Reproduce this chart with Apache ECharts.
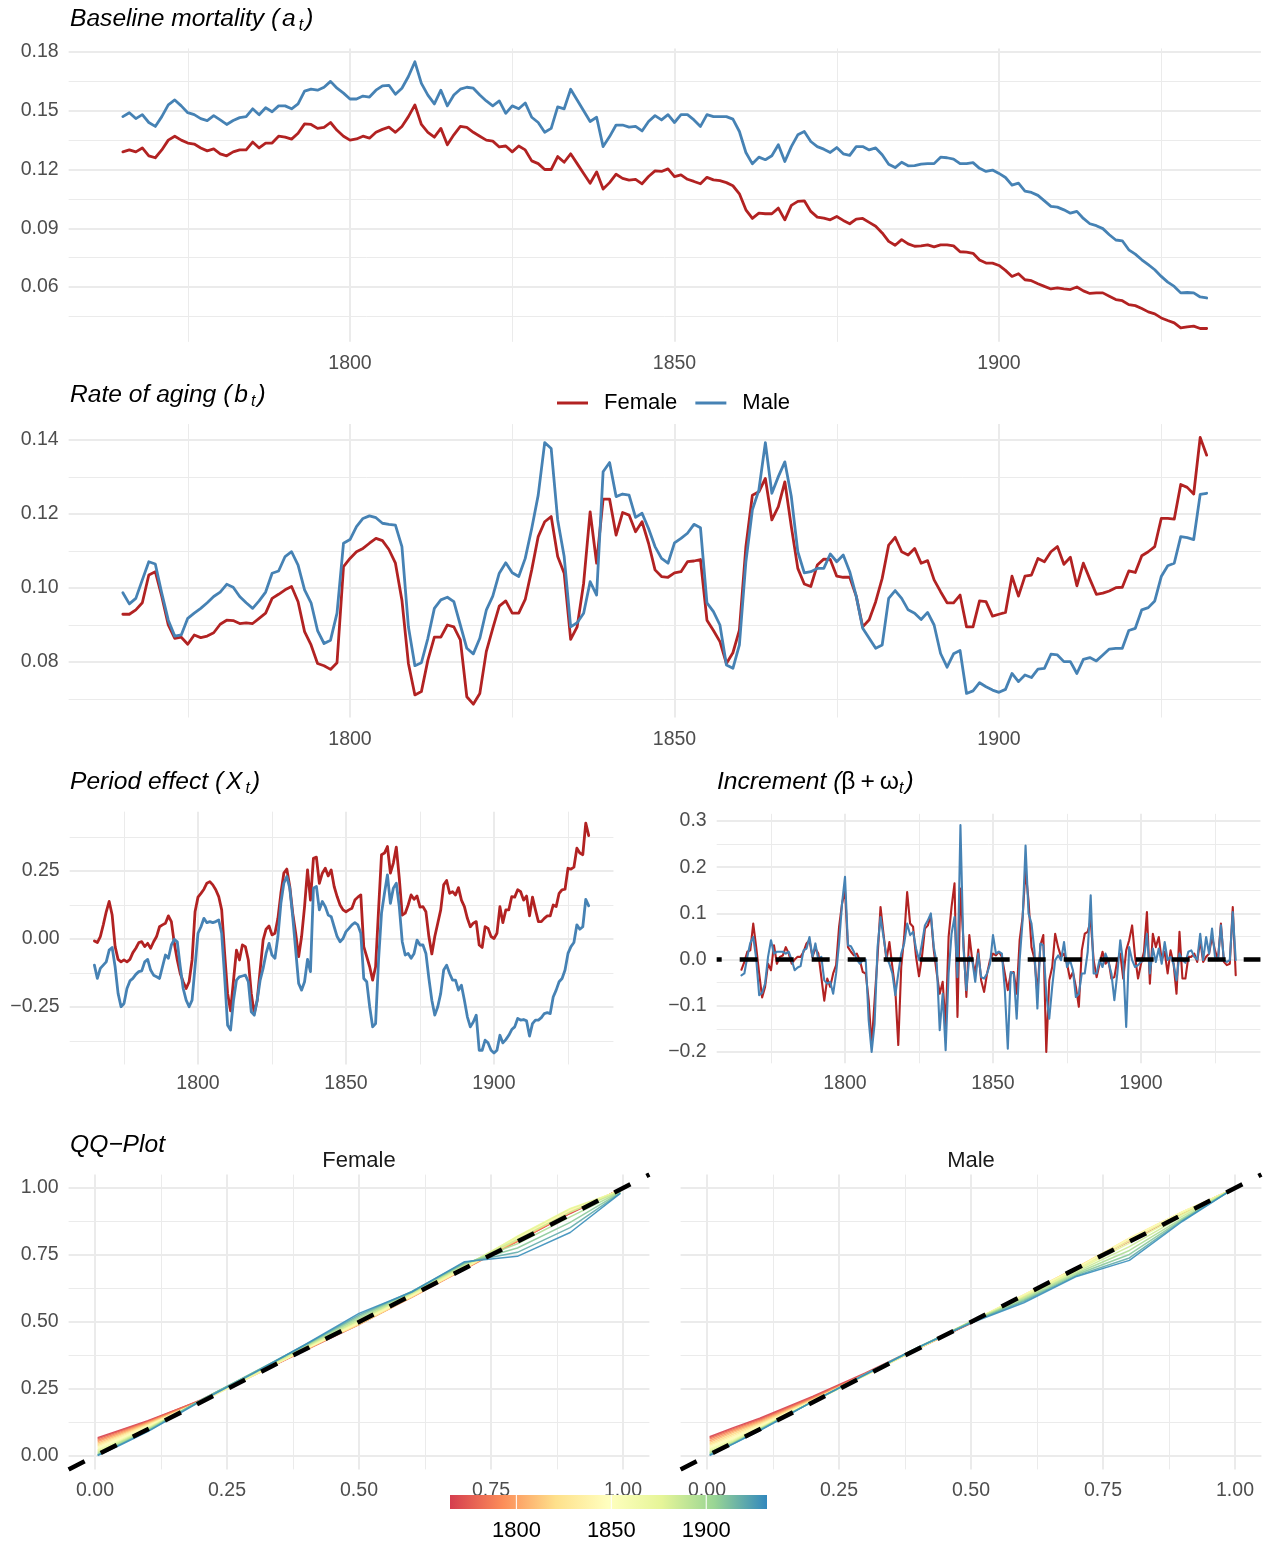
<!DOCTYPE html>
<html lang="en">
<head>
<meta charset="utf-8">
<title>Mortality model components</title>
<script src="https://cdn.jsdelivr.net/npm/echarts/dist/echarts.min.js"></script>
<style>
  html, body { margin: 0; padding: 0; background: #ffffff; }
  #chart { width: 1268px; height: 1545px; }
</style>
</head>
<body>
<div id="chart"></div>
<script>
// ---------- data ----------
const firstYear = 1765;
const lastYear = 1932;
const years = [];
for (let y = firstYear; y <= lastYear; y++) years.push(y);

// baseline mortality a_t
const aFemale = [
  0.129,0.130,0.129,0.131,0.127,0.126,0.130,0.135,0.137,0.135,
  0.1335,0.133,0.131,0.1295,0.1305,0.128,0.127,0.129,0.130,0.130,
  0.134,0.131,0.1335,0.1335,0.137,0.1365,0.1355,0.1385,0.1433,0.143,
  0.141,0.1415,0.144,0.140,0.137,0.135,0.1356,0.137,0.136,0.139,
  0.1405,0.1416,0.139,0.142,0.147,0.153,0.143,0.139,0.1365,0.141,
  0.1326,0.1377,0.142,0.1415,0.139,0.137,0.135,0.1345,0.1315,0.132,
  0.129,0.132,0.130,0.1244,0.123,0.120,0.120,0.1266,0.1237,0.128,
  0.123,0.118,0.113,0.1188,0.110,0.1133,0.1176,0.1155,0.1146,0.115,
  0.1127,0.1164,0.1193,0.119,0.1203,0.1164,0.1173,0.115,0.1139,0.1127,
  0.116,0.1147,0.1143,0.1133,0.1117,0.1076,0.0994,0.095,0.0977,0.0974,
  0.0974,0.1003,0.0943,0.1017,0.1037,0.104,0.0986,0.0957,0.0952,0.0943,
  0.096,0.094,0.0923,0.0947,0.095,0.093,0.091,0.0876,0.0833,0.0813,
  0.0842,0.082,0.0808,0.081,0.0815,0.0805,0.0815,0.0815,0.081,0.078,
  0.0778,0.0772,0.0738,0.0722,0.0722,0.071,0.0685,0.0654,0.0668,0.0637,
  0.0632,0.0617,0.0603,0.059,0.0595,0.059,0.0587,0.060,0.058,0.0567,
  0.057,0.057,0.0553,0.0536,0.053,0.051,0.0505,0.049,0.0473,0.0463,
  0.0442,0.0429,0.0417,0.0391,0.0396,0.040,0.0388,0.0388
];
const aMale = [
  0.147,0.149,0.146,0.148,0.144,0.142,0.147,0.153,0.1555,0.1525,
  0.149,0.148,0.146,0.145,0.1475,0.1453,0.143,0.145,0.1465,0.147,
  0.151,0.148,0.1515,0.1495,0.1525,0.1525,0.151,0.1535,0.160,0.161,
  0.1605,0.162,0.165,0.1615,0.159,0.156,0.156,0.1575,0.157,0.1605,
  0.1627,0.163,0.1584,0.1615,0.1675,0.175,0.164,0.158,0.1535,0.1605,
  0.1525,0.158,0.161,0.162,0.1615,0.158,0.155,0.1525,0.155,0.1487,
  0.1525,0.151,0.154,0.1467,0.144,0.139,0.141,0.152,0.151,0.161,
  0.1555,0.150,0.1445,0.1467,0.1317,0.1368,0.1427,0.1427,0.1416,0.142,
  0.1397,0.1445,0.1475,0.1453,0.148,0.144,0.148,0.148,0.1453,0.142,
  0.148,0.147,0.147,0.147,0.1457,0.1394,0.1287,0.1229,0.1263,0.125,
  0.127,0.1326,0.1241,0.1317,0.1377,0.1394,0.1343,0.1317,0.1304,0.1287,
  0.1312,0.128,0.1272,0.1317,0.1317,0.130,0.131,0.1275,0.1227,0.121,
  0.1237,0.1219,0.122,0.1227,0.123,0.123,0.1263,0.126,0.1253,0.123,
  0.123,0.1235,0.1206,0.119,0.1197,0.118,0.1159,0.112,0.113,0.109,
  0.1083,0.1068,0.104,0.1012,0.1008,0.0994,0.0977,0.0986,0.095,0.0923,
  0.0913,0.0898,0.0867,0.084,0.0836,0.079,0.0768,0.0739,0.0714,0.0688,
  0.0654,0.0625,0.0603,0.057,0.0572,0.057,0.0549,0.0544
];

// rate of aging b_t
const bFemale = [
  0.0929,0.0929,0.0941,0.0960,0.1035,0.1044,0.0977,0.0900,0.0864,0.0867,
  0.0848,0.0873,0.0866,0.0870,0.0879,0.0902,0.0913,0.0912,0.0904,0.0906,
  0.0904,0.0918,0.0932,0.0972,0.0983,0.0995,0.1004,0.0963,0.0882,0.0846,
  0.0796,0.0790,0.0780,0.0798,0.1058,0.1080,0.1098,0.1107,0.1121,0.1134,
  0.1128,0.1104,0.1067,0.0967,0.0796,0.0711,0.0720,0.0805,0.0867,0.0867,
  0.0900,0.0895,0.0860,0.0706,0.0686,0.0715,0.0828,0.0891,0.0951,0.0965,
  0.0932,0.0932,0.0969,0.1049,0.1139,0.1179,0.1193,0.1085,0.1040,0.0861,
  0.0895,0.1013,0.1206,0.1067,0.1240,0.1240,0.1143,0.1204,0.1197,0.1152,
  0.1179,0.1121,0.1049,0.1031,0.1029,0.1041,0.1044,0.1071,0.1073,0.1077,
  0.0913,0.0885,0.0855,0.0796,0.0825,0.0886,0.1112,0.1251,0.1260,0.1296,
  0.1184,0.1220,0.1287,0.1166,0.1053,0.1011,0.1004,0.1062,0.1078,0.1077,
  0.1032,0.1029,0.1029,0.0978,0.0895,0.0914,0.0963,0.1026,0.1116,0.1137,
  0.1098,0.1089,0.1107,0.1067,0.1074,0.1022,0.0990,0.0960,0.0960,0.0981,
  0.0895,0.0895,0.0965,0.0963,0.0924,0.0929,0.0934,0.1032,0.0978,0.1032,
  0.1035,0.1080,0.1071,0.1098,0.1112,0.1064,0.1083,0.1006,0.1067,0.1024,
  0.0983,0.0986,0.0992,0.1001,0.1002,0.1046,0.1042,0.1087,0.1098,0.1112,
  0.1188,0.1188,0.1186,0.1280,0.1272,0.1254,0.1407,0.1359
];
const bMale = [
  0.0987,0.0957,0.0972,0.1022,0.1071,0.1065,0.0986,0.0913,0.0870,0.0873,
  0.0918,0.0932,0.0945,0.0960,0.0977,0.0989,0.1010,0.1002,0.0977,0.0960,
  0.0945,0.0965,0.0989,0.1040,0.1046,0.1085,0.1098,0.1062,0.0995,0.0960,
  0.0885,0.0850,0.0859,0.0932,0.1121,0.1131,0.1166,0.1188,0.1195,0.1190,
  0.1175,0.1172,0.1170,0.1112,0.0895,0.0790,0.0798,0.0864,0.0945,0.0968,
  0.0975,0.0963,0.0900,0.0837,0.0822,0.0864,0.0940,0.0978,0.1040,0.1068,
  0.1041,0.1031,0.1080,0.1161,0.1251,0.1393,0.1377,0.1184,0.1085,0.0895,
  0.0906,0.0932,0.1017,0.0981,0.1314,0.1339,0.1247,0.1254,0.1251,0.1191,
  0.1202,0.1161,0.1112,0.1080,0.1067,0.1122,0.1134,0.1148,0.1172,0.1163,
  0.0960,0.0936,0.0900,0.0792,0.0783,0.0846,0.1071,0.1211,0.1265,0.1393,
  0.1256,0.1301,0.1341,0.1247,0.1098,0.1041,0.1044,0.1053,0.1053,0.1092,
  0.1071,0.1089,0.1044,0.0978,0.0891,0.0864,0.0837,0.0846,0.0972,0.0993,
  0.0972,0.0941,0.0932,0.0915,0.0934,0.0900,0.0823,0.0786,0.0822,0.0831,
  0.0715,0.0722,0.0744,0.0733,0.0724,0.0718,0.0726,0.0769,0.0747,0.0765,
  0.0758,0.0781,0.0783,0.0821,0.0819,0.0801,0.0801,0.0769,0.0807,0.0812,
  0.0803,0.0819,0.0835,0.0837,0.0837,0.0885,0.0891,0.0941,0.0947,0.0965,
  0.1031,0.1060,0.1067,0.1139,0.1136,0.1131,0.1253,0.1256
];

// period effect X_t
const kFemale = [
  -0.007,-0.013,0.009,0.052,0.10,0.138,0.088,-0.028,-0.075,-0.084,
  -0.077,-0.084,-0.075,-0.050,-0.034,-0.013,-0.010,-0.028,-0.016,-0.034,
  -0.010,0.009,0.045,0.052,0.058,0.085,0.064,-0.016,-0.077,-0.127,
  -0.157,-0.182,-0.157,-0.077,0.10,0.154,0.168,0.183,0.205,0.211,
  0.199,0.181,0.156,0.107,-0.053,-0.20,-0.264,-0.151,-0.041,-0.077,
  -0.022,-0.028,-0.077,-0.20,-0.274,-0.225,-0.114,-0.004,0.036,0.048,
  0.015,0.021,0.076,0.168,0.242,0.257,0.193,0.095,0.021,-0.065,
  0.009,0.119,0.254,0.143,0.297,0.301,0.205,0.242,0.26,0.232,
  0.254,0.193,0.156,0.125,0.107,0.10,0.107,0.113,0.143,0.154,
  0.162,-0.028,-0.065,-0.102,-0.151,-0.102,0.107,0.31,0.316,0.34,
  0.242,0.279,0.338,0.224,0.088,0.095,0.125,0.162,0.146,0.158,
  0.117,0.119,0.10,0.009,-0.055,0.009,0.058,0.107,0.199,0.215,
  0.168,0.174,0.162,0.189,0.143,0.119,0.076,0.045,0.058,0.064,
  -0.022,-0.031,0.045,0.039,0.009,0.002,0.021,0.119,0.06,0.107,
  0.107,0.156,0.154,0.181,0.174,0.143,0.158,0.085,0.154,0.107,
  0.064,0.064,0.076,0.085,0.085,0.125,0.119,0.168,0.181,0.183,
  0.26,0.257,0.264,0.334,0.316,0.31,0.426,0.38
];
const kMale = [
  -0.096,-0.145,-0.108,-0.096,-0.084,-0.041,-0.031,-0.102,-0.20,-0.249,
  -0.237,-0.182,-0.154,-0.145,-0.130,-0.120,-0.117,-0.084,-0.075,-0.114,
  -0.133,-0.139,-0.145,-0.102,-0.059,-0.071,-0.022,-0.001,-0.010,-0.102,
  -0.182,-0.225,-0.249,-0.225,-0.102,0.021,0.045,0.076,0.06,0.064,
  0.06,0.064,0.07,0.021,-0.139,-0.317,-0.335,-0.225,-0.151,-0.139,
  -0.136,-0.133,-0.157,-0.268,-0.28,-0.225,-0.151,-0.108,-0.053,-0.016,
  -0.059,-0.071,0.009,0.131,0.205,0.23,0.187,0.082,-0.041,-0.163,
  -0.188,-0.157,-0.075,-0.12,0.187,0.193,0.107,0.138,0.119,0.088,
  0.082,0.045,0.009,-0.010,0.002,0.027,0.039,0.052,0.06,0.052,
  0.021,-0.145,-0.157,-0.249,-0.323,-0.311,-0.077,0.095,0.168,0.236,
  0.131,0.187,0.205,0.119,-0.010,-0.059,-0.053,-0.071,-0.053,-0.004,
  -0.022,-0.022,-0.053,-0.145,-0.225,-0.28,-0.249,-0.20,-0.114,-0.096,
  -0.127,-0.151,-0.151,-0.188,-0.17,-0.225,-0.286,-0.323,-0.305,-0.28,
  -0.409,-0.409,-0.372,-0.382,-0.409,-0.419,-0.409,-0.354,-0.382,-0.37,
  -0.354,-0.333,-0.323,-0.292,-0.298,-0.296,-0.301,-0.357,-0.311,-0.298,
  -0.298,-0.289,-0.274,-0.271,-0.274,-0.213,-0.188,-0.157,-0.145,-0.114,
  -0.053,-0.028,-0.013,0.052,0.036,0.045,0.146,0.122
];

// increment beta + omega_t
const incFemale = [
  -0.022,-0.005,0.017,0.02,0.078,0.027,-0.03,-0.082,-0.059,-0.009,
  -0.023,0.031,-0.009,0.006,0.009,0.027,0.013,-0.009,0,0.006,
  0.006,0.017,0.035,0.042,0.006,0.024,0.013,-0.038,-0.089,-0.041,
  -0.059,-0.03,-0.012,0.071,0.121,0.15,0.027,0.017,0.009,0.013,
  -0.001,-0.027,-0.03,-0.088,-0.185,-0.088,0.006,0.114,0.056,-0.001,
  0.038,-0.016,-0.066,-0.185,-0.016,0.049,0.146,0.078,0.071,0.006,
  -0.036,0.006,0.067,0.074,0.096,0.02,-0.03,-0.074,-0.048,-0.146,
  0.049,0.114,0.165,-0.124,0.154,0.042,-0.081,0.053,-0.001,-0.03,
  0.022,-0.045,-0.07,-0.03,-0.001,0.013,0.009,0.017,0.006,-0.03,
  -0.066,-0.03,-0.027,-0.074,0.042,0.092,0.193,0.128,0.027,0.002,
  -0.074,0.031,0.053,-0.20,-0.045,-0.016,0.056,0.027,0.006,0.013,
  -0.009,-0.041,-0.027,-0.059,-0.102,0.02,0.056,0.06,0.085,-0.001,
  -0.038,-0.009,0.017,-0.009,-0.001,-0.041,-0.038,-0.001,0.013,-0.041,
  0.02,0.042,0.074,0.006,-0.041,-0.009,0.017,0.103,-0.052,0.056,
  0.027,0.049,-0.001,0.017,-0.03,0.02,-0.009,-0.074,0.06,-0.041,
  -0.041,0.006,0.006,0.013,-0.005,0.042,-0.005,0.006,0.013,0.049,
  0.02,-0.001,0.078,-0.005,-0.012,-0.009,0.114,-0.034
];
const incMale = [
  -0.034,-0.03,0.006,0.036,0.049,0.002,-0.077,-0.072,-0.052,0.006,
  0.042,0.013,0.017,0.017,0.017,0.013,0.017,-0.001,-0.023,-0.017,
  -0.014,0.02,0.024,0.049,0.006,0.035,-0.001,0.006,-0.045,-0.052,
  -0.048,-0.074,-0.03,0.035,0.121,0.179,0.031,0.029,0.017,0,
  -0.009,-0.001,0,-0.131,-0.20,-0.139,0.027,0.092,0.049,0.006,
  -0.009,-0.03,-0.077,-0.03,0.013,0.035,0.078,0.053,0.06,0.024,
  -0.001,0.035,0.074,0.085,0.10,0.027,-0.009,-0.153,-0.074,-0.196,
  -0.03,0.056,0.092,-0.038,0.291,0.027,-0.066,0.006,-0.001,-0.048,
  0.013,-0.038,-0.041,-0.03,-0.009,0.053,0.013,0.017,0.013,-0.066,
  -0.193,-0.027,-0.03,-0.128,-0.001,0.085,0.247,0.10,0.078,0.02,
  -0.106,0.035,0.031,-0.074,-0.128,-0.059,-0.001,0.009,-0.001,0.038,
  -0.016,-0.001,-0.023,-0.081,-0.074,-0.03,-0.03,0.017,0.139,-0.03,
  -0.03,-0.001,-0.016,0.013,-0.005,-0.03,-0.088,-0.03,0.042,-0.009,
  -0.146,0.027,-0.001,-0.016,-0.012,-0.005,-0.001,0.056,-0.03,0.024,
  -0.005,0.024,-0.009,0.038,-0.001,0.006,-0.009,-0.045,0.013,-0.001,
  -0.007,0.017,0.02,0.006,0,0.056,-0.001,0.049,0.013,0.067,
  0.006,-0.001,0.074,-0.001,-0.005,-0.001,0.103,-0.001
];

// QQ curves: theoretical probability vs empirical, one curve per year
const qqProbs = [0.005, 0.05, 0.1, 0.2, 0.3, 0.4, 0.5, 0.6, 0.7, 0.8, 0.9, 0.995];
const qqYears = [1765, 1776, 1787, 1798, 1809, 1820, 1831, 1842, 1853, 1864, 1875, 1886, 1897, 1908, 1919, 1930];
const qqFemale = [
  [0.068, 0.098, 0.132, 0.207, 0.301, 0.396, 0.490, 0.596, 0.700, 0.801, 0.905, 0.995],
  [0.064, 0.095, 0.129, 0.209, 0.304, 0.399, 0.493, 0.599, 0.701, 0.803, 0.906, 0.995],
  [0.059, 0.091, 0.126, 0.206, 0.301, 0.401, 0.491, 0.592, 0.697, 0.801, 0.909, 0.995],
  [0.054, 0.087, 0.124, 0.203, 0.303, 0.398, 0.494, 0.594, 0.699, 0.805, 0.910, 0.994],
  [0.048, 0.082, 0.121, 0.201, 0.304, 0.396, 0.496, 0.595, 0.700, 0.806, 0.911, 0.994],
  [0.043, 0.078, 0.118, 0.204, 0.301, 0.401, 0.490, 0.594, 0.701, 0.809, 0.912, 0.993],
  [0.038, 0.073, 0.115, 0.202, 0.300, 0.402, 0.494, 0.596, 0.699, 0.811, 0.915, 0.992],
  [0.033, 0.069, 0.112, 0.202, 0.302, 0.401, 0.497, 0.598, 0.702, 0.814, 0.918, 0.991],
  [0.028, 0.065, 0.110, 0.204, 0.305, 0.401, 0.501, 0.601, 0.705, 0.817, 0.921, 0.991],
  [0.023, 0.061, 0.107, 0.202, 0.302, 0.404, 0.502, 0.602, 0.703, 0.820, 0.924, 0.990],
  [0.018, 0.057, 0.104, 0.204, 0.305, 0.406, 0.505, 0.605, 0.708, 0.818, 0.922, 0.988],
  [0.013, 0.054, 0.101, 0.206, 0.308, 0.409, 0.508, 0.607, 0.712, 0.808, 0.910, 0.987],
  [0.009, 0.051, 0.098, 0.207, 0.310, 0.412, 0.514, 0.610, 0.716, 0.792, 0.892, 0.985],
  [0.005, 0.047, 0.095, 0.208, 0.312, 0.415, 0.520, 0.613, 0.719, 0.776, 0.872, 0.983],
  [0.003, 0.045, 0.093, 0.207, 0.311, 0.417, 0.526, 0.614, 0.722, 0.760, 0.852, 0.981],
  [0.002, 0.043, 0.091, 0.204, 0.308, 0.418, 0.532, 0.612, 0.725, 0.745, 0.834, 0.980]
];
const qqMale = [
  [0.072, 0.106, 0.141, 0.222, 0.310, 0.404, 0.496, 0.596, 0.701, 0.801, 0.905, 0.996],
  [0.068, 0.102, 0.137, 0.219, 0.307, 0.402, 0.495, 0.596, 0.700, 0.804, 0.906, 0.996],
  [0.063, 0.098, 0.133, 0.216, 0.305, 0.401, 0.496, 0.597, 0.701, 0.806, 0.907, 0.995],
  [0.057, 0.093, 0.129, 0.213, 0.303, 0.400, 0.498, 0.599, 0.702, 0.808, 0.908, 0.995],
  [0.051, 0.088, 0.125, 0.210, 0.301, 0.400, 0.500, 0.600, 0.702, 0.810, 0.910, 0.995],
  [0.045, 0.082, 0.121, 0.209, 0.303, 0.401, 0.500, 0.600, 0.704, 0.811, 0.910, 0.995],
  [0.040, 0.076, 0.117, 0.207, 0.302, 0.401, 0.501, 0.601, 0.703, 0.813, 0.911, 0.995],
  [0.035, 0.071, 0.114, 0.205, 0.301, 0.401, 0.501, 0.601, 0.701, 0.813, 0.911, 0.995],
  [0.030, 0.066, 0.110, 0.204, 0.301, 0.402, 0.501, 0.600, 0.699, 0.809, 0.910, 0.995],
  [0.025, 0.061, 0.107, 0.202, 0.301, 0.402, 0.502, 0.598, 0.696, 0.803, 0.907, 0.995],
  [0.020, 0.057, 0.104, 0.202, 0.302, 0.403, 0.502, 0.594, 0.692, 0.794, 0.901, 0.995],
  [0.015, 0.053, 0.102, 0.202, 0.303, 0.404, 0.502, 0.590, 0.687, 0.781, 0.894, 0.995],
  [0.011, 0.050, 0.100, 0.203, 0.304, 0.405, 0.501, 0.586, 0.682, 0.767, 0.887, 0.995],
  [0.007, 0.048, 0.098, 0.203, 0.305, 0.406, 0.500, 0.581, 0.677, 0.752, 0.882, 0.995],
  [0.004, 0.046, 0.096, 0.204, 0.305, 0.406, 0.498, 0.577, 0.673, 0.739, 0.878, 0.995],
  [0.002, 0.045, 0.095, 0.203, 0.304, 0.405, 0.496, 0.572, 0.670, 0.730, 0.875, 0.995]
];

// tick labels (major) and minor grid positions
const yearTicks = ['1800', '1850', '1900'];
const yearMinor = [1775, 1825, 1875, 1925];
const aTicks = ['0.06', '0.09', '0.12', '0.15', '0.18'];
const aMinor = [0.045, 0.075, 0.105, 0.135, 0.165];
const bTicks = ['0.08', '0.10', '0.12', '0.14'];
const bMinor = [0.07, 0.09, 0.11, 0.13];
const kTicks = ['\u22120.25', '0.00', '0.25'];
const kMinor = [-0.375, -0.125, 0.125, 0.375];
const incTicks = ['\u22120.2', '\u22120.1', '0.0', '0.1', '0.2', '0.3'];
const incMinor = [-0.15, -0.05, 0.05, 0.15, 0.25];
const qqTicks = ['0.00', '0.25', '0.50', '0.75', '1.00'];
const qqMinor = [0.125, 0.375, 0.625, 0.875];
const barTicks = ['1800', '1850', '1900'];

// ---------- styling ----------
const FONT = '"Liberation Sans", Arial, Helvetica, sans-serif';
const COL_F = '#B22222';
const COL_M = '#4682B4';
const GRID_MAJOR = { color: '#EBEBEB', width: 2 };
const GRID_MINOR = { color: '#EBEBEB', width: 1 };
const TICK_TEXT = { color: '#4D4D4D', fontSize: 19.5, fontFamily: FONT };
const SPECTRAL = ['#D53E4F', '#FC8D59', '#FEE08B', '#FFFFBF', '#E6F598', '#99D594', '#3288BD'];

// ---------- helpers ----------
const toNum = s => parseFloat(String(s).replace('\u2212', '-'));
function mapper(v1, p1, v2, p2) { const k = (p2 - p1) / (v2 - v1); return v => p1 + (v - v1) * k; }
function padded(lo, hi) { const d = (hi - lo) * 0.05; return [lo - d, hi + d]; }
function extentOf(...arrs) {
  let lo = Infinity, hi = -Infinity;
  arrs.forEach(a => a.forEach(v => { if (v < lo) lo = v; if (v > hi) hi = v; }));
  return [lo, hi];
}
function labelFor(list) {
  return v => { for (const s of list) if (Math.abs(toNum(s) - v) < 1e-9) return s; return ''; };
}
function hexRgb(h) { return [1, 3, 5].map(i => parseInt(h.slice(i, i + 2), 16)); }
function spectral(t) {
  t = Math.max(0, Math.min(1, t));
  const n = SPECTRAL.length - 1, f = t * n, i = Math.min(Math.floor(f), n - 1), u = f - i;
  const a = hexRgb(SPECTRAL[i]), b = hexRgb(SPECTRAL[i + 1]);
  return 'rgb(' + a.map((v, k) => Math.round(v + (b[k] - v) * u)).join(',') + ')';
}

const grids = [], xAxes = [], yAxes = [], series = [];

// One panel = grid + labelled axes (major grid) + hidden axes (minor grid)
function addPanel(p) {
  const px = mapper(...p.xCal), py = mapper(...p.yCal);
  const left = px(p.xRange[0]), right = px(p.xRange[1]);
  const top = py(p.yRange[1]), bottom = py(p.yRange[0]);
  const g = grids.length;
  grids.push({ left, top, width: right - left, height: bottom - top, containLabel: false, outerBoundsMode: 'none' });
  const xi = xAxes.length, yi = yAxes.length;
  const xMajor = p.xTicks.map(toNum), yMajor = p.yTicks.map(toNum);
  xAxes.push({
    type: 'value', gridIndex: g, min: p.xRange[0], max: p.xRange[1], position: 'bottom',
    axisLine: { show: false }, axisTick: { show: false, customValues: xMajor },
    axisLabel: Object.assign({ show: true, customValues: xMajor, formatter: labelFor(p.xTicks), margin: p.xMargin }, TICK_TEXT),
    splitLine: { show: true, lineStyle: GRID_MAJOR }
  });
  xAxes.push({
    type: 'value', gridIndex: g, min: p.xRange[0], max: p.xRange[1], position: 'top',
    axisLine: { show: false }, axisTick: { show: false, customValues: p.xMinor },
    axisLabel: { show: false }, splitLine: { show: true, lineStyle: GRID_MINOR }
  });
  yAxes.push({
    type: 'value', gridIndex: g, min: p.yRange[0], max: p.yRange[1], position: 'left',
    axisLine: { show: false }, axisTick: { show: false, customValues: yMajor },
    axisLabel: Object.assign({ show: p.showY !== false, customValues: yMajor, formatter: labelFor(p.yTicks),
      margin: 10, padding: [3.6, 0, 0, 0] }, TICK_TEXT),
    splitLine: { show: true, lineStyle: GRID_MAJOR }
  });
  yAxes.push({
    type: 'value', gridIndex: g, min: p.yRange[0], max: p.yRange[1], position: 'right',
    axisLine: { show: false }, axisTick: { show: false, customValues: p.yMinor },
    axisLabel: { show: false }, splitLine: { show: true, lineStyle: GRID_MINOR }
  });
  return { xAxisIndex: xi, yAxisIndex: yi, left, right, top, bottom };
}

function line(name, ax, xs, ys, color, width, extra) {
  return Object.assign({
    type: 'line', name, xAxisIndex: ax.xAxisIndex, yAxisIndex: ax.yAxisIndex,
    data: xs.map((x, i) => [x, ys[i]]), showSymbol: false, symbol: 'none', smooth: false,
    lineStyle: { color, width, join: 'round', cap: 'round' }, itemStyle: { color },
    emphasis: { disabled: true }, silent: true, animation: false, z: 3
  }, extra || {});
}

// ---------- panels ----------
const yearRange = padded(firstYear, lastYear);

const P1 = addPanel({ xCal: [1800, 350, 1900, 999], yCal: [0.18, 52, 0.06, 287],
  xRange: yearRange, yRange: padded(...extentOf(aFemale, aMale)),
  xTicks: yearTicks, xMinor: yearMinor, yTicks: aTicks, yMinor: aMinor, xMargin: 11.5 });
const P2 = addPanel({ xCal: [1800, 350, 1900, 999], yCal: [0.14, 440, 0.08, 662],
  xRange: yearRange, yRange: padded(...extentOf(bFemale, bMale)),
  xTicks: yearTicks, xMinor: yearMinor, yTicks: bTicks, yMinor: bMinor, xMargin: 12.5 });
const P3 = addPanel({ xCal: [1800, 198, 1900, 494], yCal: [0.25, 871, -0.25, 1007],
  xRange: yearRange, yRange: padded(...extentOf(kFemale, kMale)),
  xTicks: yearTicks, xMinor: yearMinor, yTicks: kTicks, yMinor: kMinor, xMargin: 9.3 });
const P4 = addPanel({ xCal: [1800, 845, 1900, 1141], yCal: [0.3, 821, -0.2, 1052],
  xRange: yearRange, yRange: padded(...extentOf(incFemale, incMale)),
  xTicks: yearTicks, xMinor: yearMinor, yTicks: incTicks, yMinor: incMinor, xMargin: 10.5 });
const QF = addPanel({ xCal: [0, 95, 1, 623], yCal: [1, 1188, 0, 1456],
  xRange: [-0.05, 1.05], yRange: [-0.05, 1.05],
  xTicks: qqTicks, xMinor: qqMinor, yTicks: qqTicks, yMinor: qqMinor, xMargin: 10.8 });
const QM = addPanel({ xCal: [0, 707, 1, 1235], yCal: [1, 1188, 0, 1456],
  xRange: [-0.05, 1.05], yRange: [-0.05, 1.05],
  xTicks: qqTicks, xMinor: qqMinor, yTicks: qqTicks, yMinor: qqMinor, xMargin: 10.8, showY: false });

series.push(line('Female', P1, years, aFemale, COL_F, 2.8));
series.push(line('Male', P1, years, aMale, COL_M, 2.8));
series.push(line('Female', P2, years, bFemale, COL_F, 2.8));
series.push(line('Male', P2, years, bMale, COL_M, 2.8));
series.push(line('Female', P3, years, kFemale, COL_F, 2.8));
series.push(line('Male', P3, years, kMale, COL_M, 2.8));
series.push(line('Female', P4, years, incFemale, COL_F, 2.1));
series.push(line('Male', P4, years, incMale, COL_M, 2.1));

const DASH = { color: '#000000', width: 4.5, type: [18, 18], cap: 'butt' };
series.push(line('zero', P4, yearRange, [0, 0], '#000', 4.5,
  { lineStyle: Object.assign({}, DASH, { dashOffset: 13 }), z: 5 }));

[[QF, qqFemale], [QM, qqMale]].forEach(([ax, rows]) => {
  rows.forEach((row, r) => {
    const col = spectral((qqYears[r] - firstYear) / (lastYear - firstYear));
    series.push(line('qq ' + qqYears[r], ax, qqProbs, row, col, 1.5,
      { lineStyle: { color: col, width: 1.5, opacity: 0.9, join: 'round' } }));
  });
  series.push(line('identity', ax, [-0.05, 1.05], [-0.05, 1.05], '#000', 4.5, { lineStyle: DASH, z: 5 }));
});

// ---------- titles ----------
const TS = 24.6;
const RICH = {
  m: { fontFamily: FONT, fontSize: TS, fontStyle: 'italic', color: '#000', lineHeight: 30 },
  v: { fontFamily: FONT, fontSize: TS, fontStyle: 'italic', color: '#000', lineHeight: 30, padding: [0, 3, 0, 3] },
  g: { fontFamily: FONT, fontSize: TS, fontStyle: 'normal', color: '#000', lineHeight: 30 },
  s: { fontFamily: FONT, fontSize: 16, fontStyle: 'italic', color: '#000', lineHeight: 14, verticalAlign: 'bottom' },
  p: { fontFamily: FONT, fontSize: TS, fontStyle: 'italic', color: '#000', lineHeight: 30, padding: [0, 0, 0, 2] }
};
function title(text, left, top) {
  return { text, left, top, padding: 0,
    textStyle: { rich: RICH, fontFamily: FONT, fontSize: TS, fontStyle: 'italic', fontWeight: 'normal', color: '#000' } };
}
const titles = [
  title('{m|Baseline mortality (}{v|a}{s|t}{p|)}', 70, 4),
  title('{m|Rate of aging (}{v|b}{s|t}{p|)}', 70, 380),
  title('{m|Period effect (}{v|X}{s|t}{p|)}', 70, 767),
  title('{m|Increment (}{g|\u03B2\u2009+\u2009\u03C9}{s|t}{p|)}', 717, 767),
  title('{m|QQ\u2212Plot}', 70, 1130)
];

// ---------- facet strips and colour bar ----------
const graphics = [];
[[QF, 'Female'], [QM, 'Male']].forEach(([p, txt]) => {
  graphics.push({ type: 'text', x: (p.left + p.right) / 2, y: 1161.3, z: 50,
    style: { text: txt, font: '22px ' + FONT, fill: '#1A1A1A', textAlign: 'center', textVerticalAlign: 'middle', align: 'center', verticalAlign: 'middle' } });
});
const bar = { x0: 450, x1: 767, y: 1495, h: 14 };
const barX = mapper(firstYear, bar.x0, lastYear, bar.x1);
graphics.push({ type: 'rect', z: 100, shape: { x: bar.x0, y: bar.y, width: bar.x1 - bar.x0, height: bar.h },
  style: { fill: new echarts.graphic.LinearGradient(0, 0, 1, 0, SPECTRAL.map((c, i) => ({ offset: i / (SPECTRAL.length - 1), color: c }))) } });
barTicks.forEach(s => {
  const x = barX(toNum(s));
  graphics.push({ type: 'line', z: 101, shape: { x1: x, y1: bar.y, x2: x, y2: bar.y + bar.h },
    style: { stroke: 'rgba(255,255,255,0.9)', lineWidth: 1.2 } });
  graphics.push({ type: 'text', z: 101, x, y: 1531,
    style: { text: s, font: '22px ' + FONT, fill: '#000', textAlign: 'center', textVerticalAlign: 'middle', align: 'center', verticalAlign: 'middle' } });
});

// ---------- chart ----------
const chart = echarts.init(document.getElementById('chart'), null, { renderer: 'canvas', width: 1268, height: 1545 });
chart.setOption({
  backgroundColor: '#ffffff',
  animation: false,
  textStyle: { fontFamily: FONT },
  title: titles,
  legend: {
    data: ['Female', 'Male'], left: 557, top: 392, orient: 'horizontal', icon: 'rect',
    itemWidth: 31, itemHeight: 3, itemGap: 18, padding: 0, selectedMode: false,
    textStyle: { fontSize: 22, color: '#000', fontFamily: FONT, padding: [0, 0, 0, 11] }
  },
  grid: grids,
  xAxis: xAxes,
  yAxis: yAxes,
  series,
  graphic: graphics
});
</script>
</body>
</html>
